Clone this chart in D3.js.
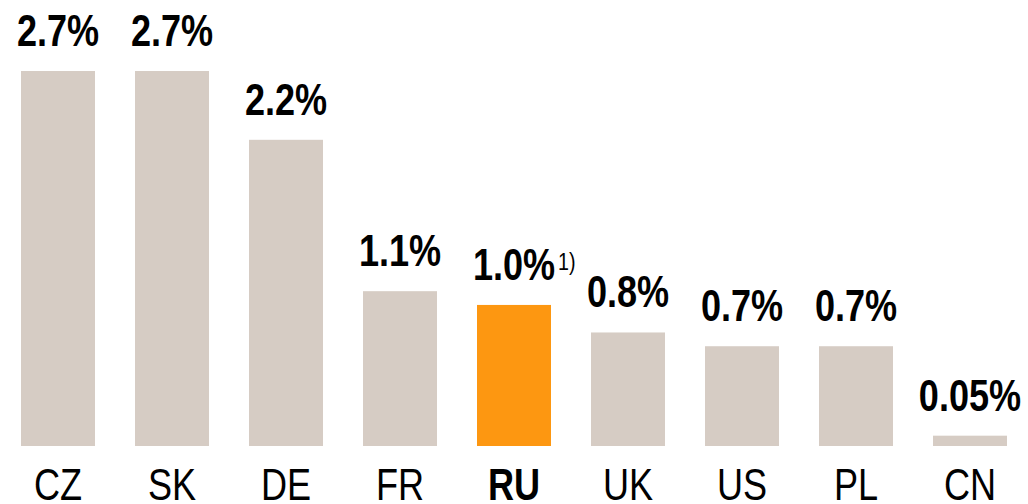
<!DOCTYPE html>
<html>
<head>
<meta charset="utf-8">
<script src="https://cdn.jsdelivr.net/npm/d3@7"></script>
<style>
  body { margin: 0; background: #fff; }
  text { font-family: "Liberation Sans", Arial, sans-serif; }
</style>
</head>
<body>
<svg id="svg1" width="1028" height="504"></svg>
<script>
'use strict'

// chart data
const countries = ["CZ", "SK", "DE", "FR", "RU", "UK", "US", "PL", "CN"];
const shares    = [2.7, 2.7, 2.2, 1.1, 1.0, 0.8, 0.7, 0.7, 0.05];
const labels    = ["2.7%", "2.7%", "2.2%", "1.1%", "1.0%", "0.8%", "0.7%", "0.7%", "0.05%"];
const highlight = "RU";
const footnote  = "1)";

// no narrow font installed, so squeeze Liberation Sans horizontally
const narrow = 0.82;

/**
 * @function
 * @description draws the bar chart into svg1
 */
function drawChart(){
  let svg = d3.select("#svg1");
  let baseline = 446;

  let x = d3.scaleBand()
    .domain(countries)
    .range([1, 1027])
    .paddingInner(40/114)
    .paddingOuter(20/114);

  // the axis starts a bit below zero so that the small CN bar stays visible
  let y = d3.scaleLinear()
    .domain([-0.025, 2.7])
    .range([baseline, 71]);

  let data = countries.map((c, i) => ({country: c, value: shares[i], label: labels[i]}));
  let cx = d => x(d.country) + x.bandwidth()/2;

  svg.selectAll(".bar")
    .data(data)
    .enter().append("rect")
      .attr("class", "bar")
      .attr("x", d => x(d.country))
      .attr("y", d => y(d.value))
      .attr("width", x.bandwidth())
      .attr("height", d => baseline - y(d.value))
      .attr("fill", d => d.country === highlight ? "#fd9711" : "#d6ccc4");

  // value labels above the bars
  svg.selectAll(".val")
    .data(data)
    .enter().append("text")
      .attr("class", "val")
      .attr("transform", d => `translate(${cx(d)},${y(d.value) - 25}) scale(${narrow},1)`)
      .attr("text-anchor", "middle")
      .attr("font-size", 44)
      .attr("font-weight", "bold")
      .attr("fill", "#000")
      .text(d => d.label)
      .each(function(d){
        if (d.country !== highlight) return;
        let w = this.getComputedTextLength() * narrow;
        svg.append("text")
          .attr("transform", `translate(${cx(d) + w/2 + 3},${y(d.value) - 35}) scale(${narrow},1)`)
          .attr("font-size", 24)
          .attr("fill", "#000")
          .text(footnote);
      });

  // country names under the bars
  svg.selectAll(".cat")
    .data(data)
    .enter().append("text")
      .attr("class", "cat")
      .attr("transform", d => `translate(${cx(d)},500) scale(${narrow},1)`)
      .attr("text-anchor", "middle")
      .attr("font-size", 44)
      .attr("font-weight", d => d.country === highlight ? "bold" : "normal")
      .attr("fill", "#000")
      .text(d => d.country);
}

drawChart();
</script>
</body>
</html>
